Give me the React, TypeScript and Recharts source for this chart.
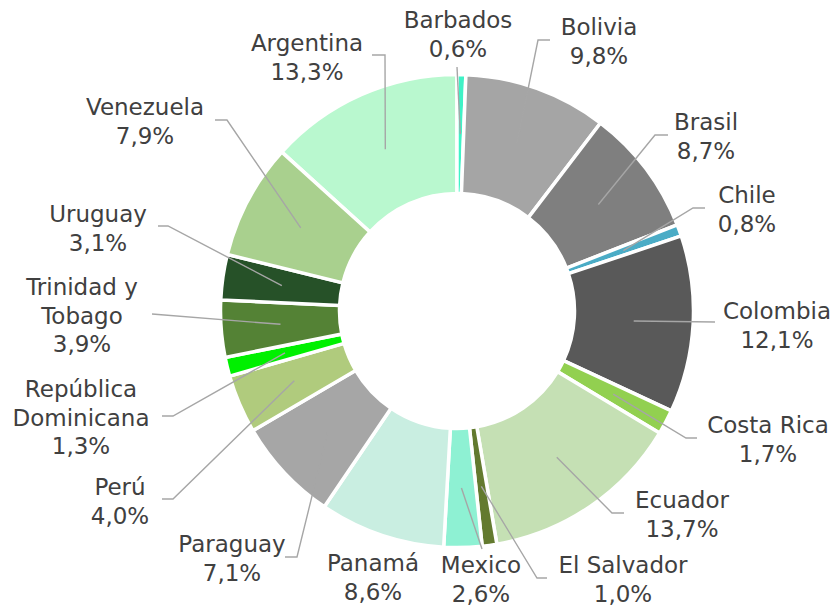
import { PieChart, Pie, Cell } from 'recharts';

const countries = [
  'Argentina', 'Barbados', 'Bolivia', 'Brasil', 'Chile', 'Colombia', 'Costa Rica',
  'Ecuador', 'El Salvador', 'Mexico', 'Panamá', 'Paraguay', 'Perú',
  'República Dominicana', 'Trinidad y Tobago', 'Uruguay', 'Venezuela',
];
const shares = [13.3, 0.6, 9.8, 8.7, 0.8, 12.1, 1.7, 13.7, 1.0, 2.6, 8.6, 7.1, 4.0, 1.3, 3.9, 3.1, 7.9];

const sliceColors = [
  '#B9F8CF', '#3FF2C6', '#A5A5A5', '#7F7F7F', '#4BACC6', '#595959', '#92D050',
  '#C5E0B4', '#637A2F', '#8EF1D3', '#C9EEE1', '#A6A6A6', '#B0CB7D',
  '#00F000', '#548235', '#265128', '#A9D08E',
];

// where Excel put each data label, and where its leader line meets it
const labelLayout: Record<string, { x: number; y: number; end?: [number, number]; stub?: number }> = {
  Argentina: { x: 307, y: 51, end: [372, 55], stub: 13 },
  Barbados: { x: 458, y: 28, end: [457, 67], stub: 0 },
  Bolivia: { x: 599, y: 35, end: [550, 40], stub: -12 },
  Brasil: { x: 706, y: 130, end: [668, 135], stub: -13 },
  Chile: { x: 747, y: 203, end: [705, 208], stub: -12 },
  Colombia: { x: 777, y: 319, end: [715, 322], stub: 0 },
  'Costa Rica': { x: 768, y: 433, end: [697, 438], stub: -11 },
  Ecuador: { x: 682, y: 508, end: [624, 513], stub: -12 },
  'El Salvador': { x: 623, y: 573, end: [547, 578], stub: -10 },
  Mexico: { x: 481, y: 573, end: [482, 549], stub: 0 },
  'Panamá': { x: 373, y: 571 },
  Paraguay: { x: 232, y: 552, end: [285, 557], stub: 12 },
  'Perú': { x: 120, y: 495, end: [162, 499], stub: 11 },
  'República Dominicana': { x: 81, y: 397, end: [162, 416], stub: 11 },
  'Trinidad y Tobago': { x: 82, y: 295, end: [152, 314], stub: 0 },
  Uruguay: { x: 98, y: 222, end: [158, 226], stub: 10 },
  Venezuela: { x: 145, y: 115, end: [215, 120], stub: 12 },
};

const data = countries.map((name, i) => ({ name, value: shares[i] }));
const total = shares.reduce((a, b) => a + b, 0);
const startAngle = 90 + (shares[0] / total) * 360;

const RAD = Math.PI / 180;
const LINE = 28.5;

function splitName(name: string) {
  if (name.length <= 12) return [name];
  const k = name.lastIndexOf(' ');
  return [name.slice(0, k), name.slice(k + 1)];
}

const fmt = (v: number) => v.toFixed(1).replace('.', ',') + '%';

function renderLabel(props: any) {
  const { cx, cy, midAngle, innerRadius, outerRadius, index } = props;
  const name = countries[index];
  const spec = labelLayout[name];
  const r = (innerRadius + outerRadius) / 2;
  const ax = cx + r * Math.cos(-midAngle * RAD);
  const ay = cy + r * Math.sin(-midAngle * RAD);
  const lines = [...splitName(name), fmt(shares[index])];
  let leader = null;
  if (spec.end) {
    const [ex, ey] = spec.end;
    const bx = ex + (spec.stub || 0);
    leader = (
      <path
        d={`M${ax},${ay}L${bx},${ey}L${ex},${ey}`}
        stroke="#A6A6A6"
        strokeWidth={1.4}
        fill="none"
      />
    );
  }
  return (
    <g key={`lbl-${index}`}>
      {leader}
      <text
        x={spec.x}
        y={spec.y}
        textAnchor="middle"
        fill="#404040"
        fontSize={23}
        fontFamily="DejaVu Sans, Verdana, sans-serif"
      >
        {lines.map((l, i) => (
          <tspan key={i} x={spec.x} dy={i === 0 ? 0 : LINE}>
            {l}
          </tspan>
        ))}
      </text>
    </g>
  );
}

export default function App() {
  return (
    <div style={{ position: 'absolute', left: 0, top: 0, background: '#fff' }}>
      <PieChart width={836} height={608} margin={{ top: 0, right: 0, bottom: 0, left: 0 }}>
        <Pie
          data={data}
          dataKey="value"
          nameKey="name"
          cx={457}
          cy={311}
          innerRadius={117.5}
          outerRadius={236.5}
          startAngle={startAngle}
          endAngle={startAngle - 360}
          stroke="#fff"
          strokeWidth={3.5}
          label={renderLabel}
          labelLine={false}
          isAnimationActive={false}
        >
          {data.map((d, i) => (
            <Cell key={d.name} fill={sliceColors[i]} />
          ))}
        </Pie>
      </PieChart>
    </div>
  );
}
